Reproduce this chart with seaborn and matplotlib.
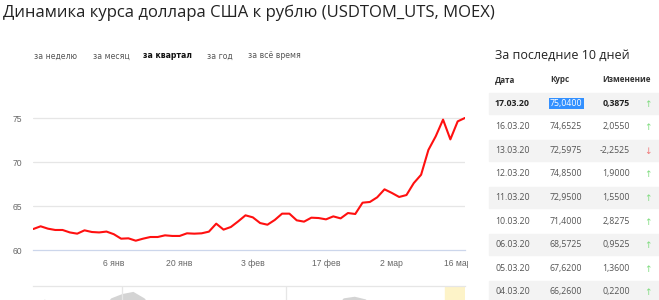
import matplotlib
matplotlib.use("Agg")
import matplotlib.pyplot as plt
import seaborn as sns
import numpy as np
import pandas as pd
from matplotlib.patches import Rectangle
from matplotlib.transforms import Bbox, TransformedBbox

# ---------------- data ----------------
rate_values = [62.39, 62.70, 62.43, 62.28, 62.28, 62.00, 61.86, 62.24, 62.05, 62.00,
               62.10, 61.80, 61.29, 61.33, 61.06, 61.29, 61.48, 61.48, 61.67, 61.60,
               61.60, 61.90, 61.86, 61.90, 62.09, 63.00, 62.32, 62.62, 63.26, 63.95,
               63.72, 63.07, 62.88, 63.42, 64.14, 64.14, 63.38, 63.23, 63.68, 63.64,
               63.49, 63.83, 63.60, 64.21, 64.10, 65.39, 65.47, 66.00, 66.91, 66.50,
               66.04, 66.26, 67.62, 68.57, 71.40, 72.95, 74.85, 72.60, 74.65, 75.04]
x_tick_index = [11, 20, 30, 40, 49, 58]
x_tick_labels = ["6 янв", "20 янв", "3 фев", "17 фев", "2 мар", "16 мар"]
y_ticks = [60, 65, 70, 75]

tabs = ["за неделю", "за месяц", "за квартал", "за год", "за всё время"]
active_tab = "за квартал"

table_dates = ["17.03.20", "16.03.20", "13.03.20", "12.03.20", "11.03.20",
               "10.03.20", "06.03.20", "05.03.20", "04.03.20"]
table_rates = ["75,0400", "74,6525", "72,5975", "74,8500", "72,9500",
               "71,4000", "68,5725", "67,6200", "66,2600"]
table_changes = ["0,3875", "2,0550", "-2,2525", "1,9000", "1,5500",
                 "2,8275", "0,9525", "1,3600", "0,2200"]

# navigator (long history, only top visible)
nav_values = [-1, 0.1, -1, -1, -1, -1, -1, 0.2, 0.6, 0.8, 0.2, -1, -1, -1, -1, -1,
              -1, -1, -1, -1, -1, -1, -1, -1, -1, -1, -1, -1, 0.2, 0.35, 0.1, -1,
              -1, -1, -1, -1, -1, -1, -1, -1]
nav_grid = [8.0, 22.8]

# ---------------- style ----------------
sns.set_theme(style="white")
plt.rcParams['font.family'] = ['Open Sans', 'DejaVu Sans']

W, H = 659, 300
fig = plt.figure(figsize=(W / 100, H / 100), dpi=100)

def fx(x):
    return x / W

def fy(y):
    return 1 - y / H

# ---------------- main chart ----------------
left, right = 33.3, 465.0
top_px, bot_px = 90.0, 250.0
ax = fig.add_axes([fx(left), fy(bot_px), fx(right - left), (bot_px - top_px) / H])
df = pd.DataFrame({"i": np.arange(len(rate_values)), "rate": rate_values})
sns.lineplot(data=df, x="i", y="rate", ax=ax, color="#ff1010", lw=1.5)
ax.set_xlim(0, len(rate_values) - 1)
ppu = (250 - 118.3) / 15
ax.set_ylim(60, 60 + (bot_px - top_px) / ppu)
ax.set_yticks(y_ticks)
ax.set_yticklabels([str(v) for v in y_ticks], color="#666666", fontsize=6.2,
                   family=['Liberation Sans'])
ax.set_xticks(x_tick_index)
ax.set_xticklabels(x_tick_labels, color="#666666", fontsize=6.2, family=['Liberation Sans'])
ax.tick_params(axis='y', length=0, pad=8)
ax.tick_params(axis='x', length=3.5, width=0.8, color="#ccd6eb", pad=3, direction='out')
clip = TransformedBbox(Bbox.from_extents(0, 0, fx(468), 1), fig.transFigure)
for lab in ax.get_xticklabels():
    lab.set_clip_box(clip)
    lab.set_clip_on(True)
for v in y_ticks[1:]:
    ax.axhline(v, color="#e6e6e6", lw=0.9, zorder=0)
for s in ["top", "right", "left"]:
    ax.spines[s].set_visible(False)
ax.spines["bottom"].set_color("#ccd6eb")
ax.spines["bottom"].set_linewidth(0.9)
ax.set_xlabel("")
ax.set_ylabel("")
ax.patch.set_alpha(0)

# ---------------- navigator ----------------
nav = fig.add_axes([fx(left), fy(300), fx(right - left), 14 / H])
nav.set_xlim(0, len(nav_values) - 1)
nav.set_ylim(0, 1.3)
nav.fill_between(np.arange(len(nav_values)), nav_values, -2, color="#d4d4d4", lw=0)
for g in nav_grid:
    nav.axvline(g, color="#e6e6e6", lw=0.9)
nav.axvspan(len(nav_values) - 2.8, len(nav_values) - 1, color="#fdf3c8", zorder=0)
nav.set_xticks([])
nav.set_yticks([])
for s in ["right", "left", "bottom"]:
    nav.spines[s].set_visible(False)
nav.spines["top"].set_color("#e6e6e6")
nav.spines["top"].set_linewidth(0.9)
nav.patch.set_alpha(0)

# ---------------- title & tabs ----------------
fig.text(fx(3), fy(13), "Динамика курса доллара США к рублю (USDTOM_UTS, MOEX)",
         fontsize=12.0, color="#222222", va="center", ha="left")
tab_x = [34, 93, 143, 207, 248]
for t, x in zip(tabs, tab_x):
    fig.text(fx(x), fy(56), t, fontsize=5.6, va="center", ha="left",
             family=['DejaVu Sans'],
             color="#111111" if t == active_tab else "#555555",
             fontweight="bold" if t == active_tab else "normal")

# ---------------- table ----------------
fig.text(fx(495), fy(55), "За последние 10 дней", fontsize=9.0, color="#222222",
         va="center", ha="left")
hdr_y = 80
fig.text(fx(495), fy(hdr_y), "Дата", fontsize=5.8, fontweight="bold", color="#333333", va="center")
fig.text(fx(550), fy(hdr_y), "Курс", fontsize=5.8, fontweight="bold", color="#333333", va="center")
fig.text(fx(602), fy(hdr_y), "Изменение", fontsize=5.8, fontweight="bold", color="#333333", va="center")

row0 = 103.3
dy = 23.55
for k, (d, r, c) in enumerate(zip(table_dates, table_rates, table_changes)):
    y = row0 + k * dy
    if k % 2 == 0:
        fig.patches.append(Rectangle((fx(489), fy(y + 10.5)), fx(W - 489), 21 / H,
                                     transform=fig.transFigure, color="#f3f3f3", zorder=0))
    bold = "bold" if k == 0 else "normal"
    col = "#222222" if k == 0 else "#555555"
    fig.text(fx(495), fy(y), d, fontsize=6.3, fontweight=bold, color=col, va="center")
    if k == 0:
        fig.text(fx(550), fy(y), r, fontsize=6.3, color="white", va="center",
                 bbox=dict(boxstyle="square,pad=0.12", fc="#3390ff", ec="none"))
    else:
        fig.text(fx(550), fy(y), r, fontsize=6.3, color=col, va="center")
    fig.text(fx(630), fy(y), c, fontsize=6.3, fontweight=bold, color=col, va="center", ha="right")
    up = not c.startswith("-")
    fig.text(fx(648), fy(y + 1), "↑" if up else "↓", fontsize=6.5, va="center", ha="center",
             color="#7fdc7f" if up else "#f07878", family=['DejaVu Sans'])

fig.savefig("out.png", dpi=100)
